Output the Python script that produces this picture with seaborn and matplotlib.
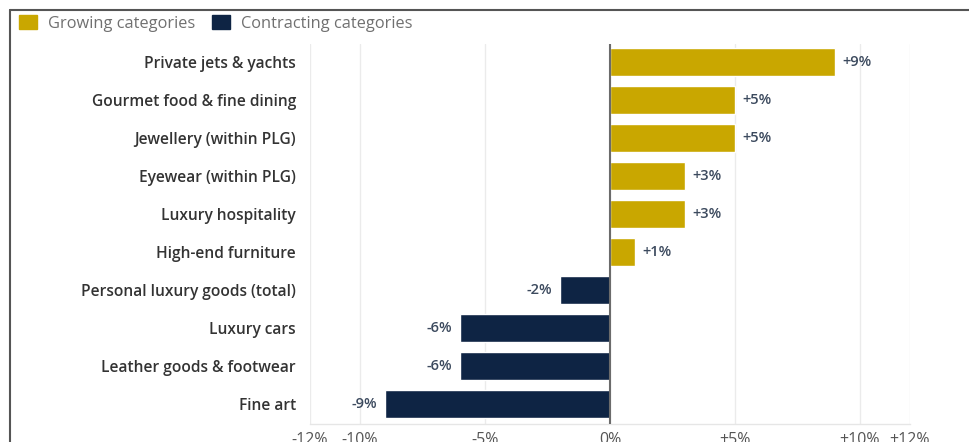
import matplotlib
matplotlib.use("Agg")
import matplotlib.pyplot as plt
import seaborn as sns
import pandas as pd
from matplotlib.patches import Patch
from matplotlib.lines import Line2D

categories = [
    "Private jets & yachts",
    "Gourmet food & fine dining",
    "Jewellery (within PLG)",
    "Eyewear (within PLG)",
    "Luxury hospitality",
    "High-end furniture",
    "Personal luxury goods (total)",
    "Luxury cars",
    "Leather goods & footwear",
    "Fine art",
]
values = [9, 5, 5, 3, 3, 1, -2, -6, -6, -9]
groups = ["Growing categories"] * 6 + ["Contracting categories"] * 4
value_labels = ["+9%", "+5%", "+5%", "+3%", "+3%", "+1%", "-2%", "-6%", "-6%", "-9%"]
tick_values = [-12, -10, -5, 0, 5, 10, 12]
tick_labels = ["-12%", "-10%", "-5%", "0%", "+5%", "+10%", "+12%"]

GOLD = "#C9A700"
NAVY = "#0E2444"

df = pd.DataFrame({"category": categories, "value": values, "group": groups})

sns.set_theme(style="white")
plt.rcParams["font.family"] = ["Open Sans", "DejaVu Sans"]

fig = plt.figure(figsize=(9.69, 4.42), dpi=100)
ax = fig.add_axes([310 / 969, 1 - 424 / 442, 600 / 969, 380 / 442])

sns.barplot(
    data=df, x="value", y="category", hue="group", orient="h",
    palette={"Growing categories": GOLD, "Contracting categories": NAVY},
    dodge=False, width=0.73, ax=ax, legend=False, saturation=1,
)

# value labels
for i, (v, lab) in enumerate(zip(values, value_labels)):
    off = 0.3 if v > 0 else -0.3
    ax.text(v + off, i, lab, ha="left" if v > 0 else "right", va="center",
            fontsize=10.5, fontweight="semibold", color="#3c4a5e")

ax.set_xlim(-12, 12)
ax.set_ylim(9.53, -0.47)
ax.set_xticks(tick_values)
ax.set_xticklabels(tick_labels, fontsize=11.5, color="#555555")
ax.tick_params(axis="x", length=0, pad=6)
ax.tick_params(axis="y", length=0, pad=10)
for t in ax.get_yticklabels():
    t.set_fontsize(11.2)
    t.set_fontweight("semibold")
    t.set_color("#333333")
ax.set_xlabel("")
ax.set_ylabel("")
for xv in tick_values:
    ax.axvline(xv, color="#ebebeb", lw=1, zorder=0)
ax.axvline(0, color="#6b6b6b", lw=1.5, zorder=3)
for s in ["top", "right", "left"]:
    ax.spines[s].set_visible(False)
ax.spines["bottom"].set_color("#e6e6e6")
ax.spines["bottom"].set_linewidth(1)
ax.set_facecolor("none")

# outer frame
fig.add_artist(Line2D([10 / 969, 1], [1 - 10 / 442, 1 - 10 / 442],
                      color="#555555", lw=1.5, transform=fig.transFigure))
fig.add_artist(Line2D([10 / 969, 10 / 969], [0, 1 - 10 / 442],
                      color="#555555", lw=1.5, transform=fig.transFigure))

handles = [Patch(facecolor=GOLD, edgecolor=GOLD, label="Growing categories"),
           Patch(facecolor=NAVY, edgecolor=NAVY, label="Contracting categories")]
leg = fig.legend(handles=handles, loc="upper left", ncol=2,
                 bbox_to_anchor=(12 / 969, 1 - 8 / 442), frameon=False,
                 handlelength=1.1, handleheight=1.0, handletextpad=0.7,
                 columnspacing=1.0, fontsize=11.8, borderaxespad=0)
for t in leg.get_texts():
    t.set_color("#707070")

fig.savefig("out.png", dpi=100)
